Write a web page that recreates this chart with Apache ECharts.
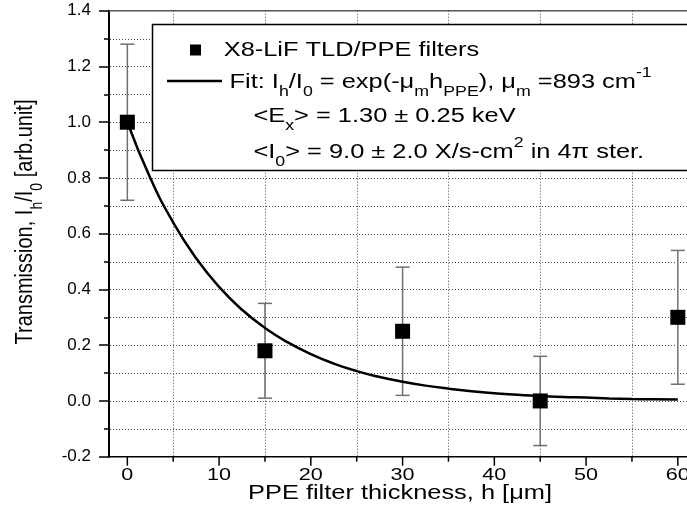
<!DOCTYPE html>
<html><head><meta charset="utf-8">
<script src="https://cdn.jsdelivr.net/npm/echarts@6/dist/echarts.min.js"></script>
<style>html,body{margin:0;padding:0;background:#fff}#c{width:687px;height:506px}</style>
</head><body><div id="c"></div>
<script>
// ---- data ----
const thickness = [0, 15, 30, 45, 60];
const transmission = [1.00, 0.18, 0.25, 0.00, 0.30];
const errLow = [0.72, 0.01, 0.02, -0.16, 0.06];
const errHigh = [1.28, 0.35, 0.48, 0.16, 0.54];
const fitH = [0, 2.5, 5, 7.5, 10, 12.5, 15, 17.5, 20, 22.5, 25, 27.5, 30, 32.5, 35, 37.5, 40, 42.5, 45, 47.5, 50, 52.5, 55, 57.5, 60];
const fitT = [1.000, 0.800, 0.640, 0.512, 0.409, 0.327, 0.262, 0.210, 0.168, 0.134, 0.107, 0.086, 0.069, 0.055, 0.044, 0.035, 0.028, 0.022, 0.018, 0.014, 0.012, 0.009, 0.007, 0.006, 0.005];
const xMajorTicks = [0, 10, 20, 30, 40, 50, 60];
const xTickLabels = ['0', '10', '20', '30', '40', '50', '60'];
const xMinorTicks = [5, 15, 25, 35, 45, 55];
const yGridValues = [-0.1, 0.0, 0.1, 0.2, 0.3, 0.4, 0.5, 0.6, 0.7, 0.8, 0.9, 1.0, 1.1, 1.2, 1.3];
const yMin = -0.2, yMax = 1.4, yStep = 0.2;
const xMin = -2, xMax = 61;

const seriesName1 = 'X8-LiF TLD/PPE filters';
const seriesName2 = 'Fit: Ih/I0 = exp(-μm hPPE), μm =893 cm-1';

const FONT = '"Liberation Sans", Arial, Helvetica, sans-serif';
const SX = 1.27;
const GRID = '#4a4a4a';

const chart = echarts.init(document.getElementById('c'));

const richStyles = {
  sub: { fontSize: 14, fontFamily: FONT, fill: '#000', padding: [20, 0, 0, 0] },
  sup: { fontSize: 14, fontFamily: FONT, fill: '#000', padding: [0, 0, 18, 0] }
};
function txt(x, y, text, extra) {
  const el = {
    type: 'text', x: x, y: y, scaleX: SX, z: 20,
    style: {
      text: text, fontSize: 20, fontFamily: FONT, fill: '#000',
      align: 'left', verticalAlign: 'middle', rich: richStyles
    }
  };
  if (extra) {
    Object.keys(extra).forEach(k => {
      if (k === 'style') Object.assign(el.style, extra.style); else el[k] = extra[k];
    });
  }
  return el;
}
const snap = v => Math.round(v) + 0.5;

const option = {
  animation: false,
  grid: { left: 109, right: 0, top: 10.7, bottom: 49.3, containLabel: false, outerBoundsMode: 'none' },
  xAxis: {
    type: 'value', min: xMin, max: xMax,
    axisLine: { show: false, onZero: false },
    axisTick: { show: false }, axisLabel: { show: false }, splitLine: { show: false }
  },
  yAxis: {
    type: 'value', min: yMin, max: yMax, interval: yStep,
    axisLine: { show: true, onZero: false, lineStyle: { color: '#000', width: 2 } },
    axisTick: { show: true, length: 10, lineStyle: { color: '#000', width: 1.5 } },
    minorTick: { show: true, splitNumber: 2, length: 5, lineStyle: { color: '#000', width: 1.5 } },
    axisLabel: { margin: 18, fontSize: 17, fontFamily: FONT, color: '#000', formatter: v => v.toFixed(1) },
    splitLine: { show: false },
    minorSplitLine: { show: false }
  },
  series: [
    { // horizontal dotted gridlines
      type: 'custom', name: 'gridY', z: 1, silent: true,
      data: yGridValues.map(v => [xMin, v]), encode: { x: 0, y: 1 },
      renderItem: function (params, api) {
        const a = api.coord([xMin, api.value(1)]);
        const b = api.coord([xMax, api.value(1)]);
        const y = snap(a[1]);
        return { type: 'line', shape: { x1: a[0] + 1, y1: y, x2: b[0], y2: y },
          style: { stroke: GRID, lineWidth: 1, lineDash: [1, 2] } };
      }
    },
    { // vertical dotted gridlines + minor ticks
      type: 'custom', name: 'gridX', z: 1, silent: true,
      data: xMinorTicks.map(v => [v, yMin]), encode: { x: 0, y: 1 },
      renderItem: function (params, api) {
        const a = api.coord([api.value(0), yMin]);
        const b = api.coord([api.value(0), yMax]);
        const x = snap(a[0]);
        return { type: 'group', children: [
          { type: 'line', shape: { x1: x, y1: b[1], x2: x, y2: a[1] }, style: { stroke: GRID, lineWidth: 1, lineDash: [1, 2] } },
          { type: 'line', shape: { x1: a[0], y1: a[1], x2: a[0], y2: a[1] + 5 }, style: { stroke: '#000', lineWidth: 1.5 } }
        ] };
      }
    },
    { // error bars
      type: 'custom', name: 'error', z: 3, silent: true,
      data: thickness.map((h, i) => [h, errLow[i], errHigh[i]]),
      encode: { x: 0, y: [1, 2] },
      renderItem: function (params, api) {
        const x = api.value(0);
        const pLo = api.coord([x, api.value(1)]);
        const pHi = api.coord([x, api.value(2)]);
        const hw = 7;
        const st = () => ({ stroke: '#707070', lineWidth: 1.5 });
        return { type: 'group', children: [
          { type: 'line', shape: { x1: pLo[0], y1: pLo[1], x2: pHi[0], y2: pHi[1] }, style: st() },
          { type: 'line', shape: { x1: pLo[0] - hw, y1: pLo[1], x2: pLo[0] + hw, y2: pLo[1] }, style: st() },
          { type: 'line', shape: { x1: pHi[0] - hw, y1: pHi[1], x2: pHi[0] + hw, y2: pHi[1] }, style: st() }
        ] };
      }
    },
    {
      type: 'line', name: seriesName2, z: 4, silent: true,
      data: fitH.map((h, i) => [h, fitT[i]]),
      smooth: true, showSymbol: false, symbol: 'none',
      lineStyle: { color: '#000', width: 2.5 }
    },
    {
      type: 'scatter', name: seriesName1, z: 5, silent: true,
      data: thickness.map((h, i) => [h, transmission[i]]),
      symbol: 'rect', symbolSize: 15,
      itemStyle: { color: '#000', opacity: 1 }
    },
    { // bottom axis major ticks + tick labels
      type: 'custom', name: 'xTicks', z: 6, silent: true,
      data: xMajorTicks.map(v => [v, yMin]), encode: { x: 0, y: 1 },
      renderItem: function (params, api) {
        const a = api.coord([api.value(0), yMin]);
        return { type: 'group', children: [
          { type: 'line', shape: { x1: a[0], y1: a[1], x2: a[0], y2: a[1] + 9 }, style: { stroke: '#000', lineWidth: 1.5 } },
          { type: 'text', x: a[0], y: a[1] + 19, scaleX: SX,
            style: { text: xTickLabels[params.dataIndex], fontSize: 17, fontFamily: FONT, fill: '#000', align: 'center', verticalAlign: 'middle' } }
        ] };
      }
    },
    { // plot frame: bottom axis line and top border
      type: 'custom', name: 'frame', z: 6, silent: true,
      data: [[xMin, yMin]], encode: { x: 0, y: 1 },
      renderItem: function (params, api) {
        const bl = api.coord([xMin, yMin]), br = api.coord([xMax, yMin]);
        const tl = api.coord([xMin, yMax]), tr = api.coord([xMax, yMax]);
        return { type: 'group', children: [
          { type: 'line', shape: { x1: bl[0], y1: bl[1], x2: br[0], y2: br[1] }, style: { stroke: '#000', lineWidth: 1.5 } },
          { type: 'line', shape: { x1: tl[0], y1: tl[1], x2: tr[0], y2: tr[1] }, style: { stroke: '#555', lineWidth: 1.5 } }
        ] };
      }
    }
  ],
  graphic: {
    elements: [
      { type: 'rect', z: 15, shape: { x: 152.5, y: 24.5, width: 600, height: 146 },
        style: { fill: '#fff', stroke: '#000', lineWidth: 1.5 } },
      { type: 'rect', z: 16, shape: { x: 190, y: 44.5, width: 11, height: 11 }, style: { fill: '#000' } },
      { type: 'line', z: 16, shape: { x1: 167, y1: 81, x2: 222, y2: 81 }, style: { stroke: '#000', lineWidth: 2.5 } },
      txt(223.7, 50, 'X8-LiF TLD/PPE filters'),
      txt(229.5, 82.5, 'Fit: I{sub|h}/I{sub|0} = exp(-μ{sub|m}h{sub|PPE}), μ{sub|m} =893 cm{sup|-1}'),
      txt(253.4, 116, '<E{sub|x}> = 1.30 ± 0.25 keV'),
      txt(253.4, 152, '<I{sub|0}> = 9.0 ± 2.0 X/s-cm{sup|2} in 4π ster.'),
      txt(400, 493, 'PPE filter thickness, h [μm]', { style: { align: 'center' } }),
      txt(26, 222, 'Transmission, I{sub|h}/I{sub|0} [arb.unit]', { rotation: Math.PI / 2, scaleX: 1, scaleY: 1.15, style: { align: 'center' } })
    ]
  }
};
chart.setOption(option);
</script>
</body></html>
